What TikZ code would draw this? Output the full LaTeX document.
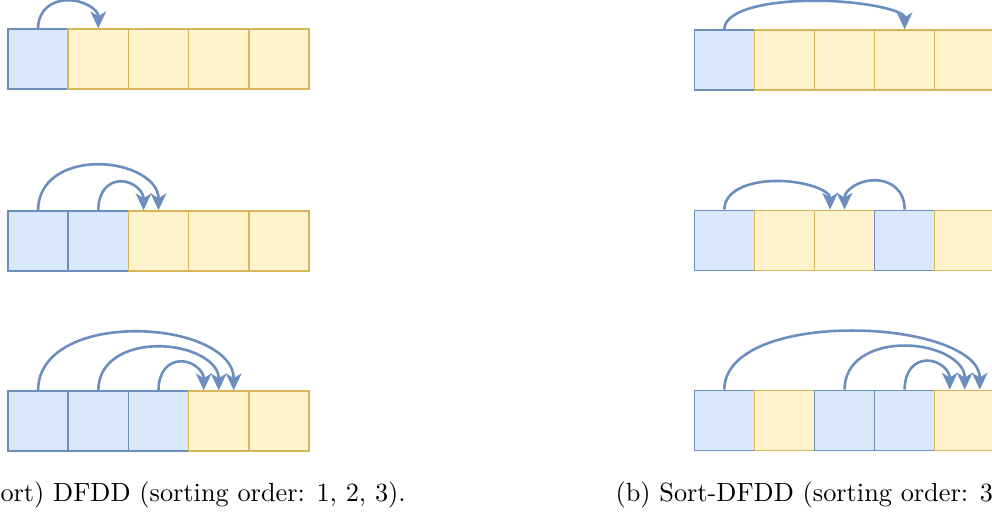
\documentclass[tikz,border=0pt]{standalone}
\usetikzlibrary{arrows.meta,calc}
\definecolor{bfill}{HTML}{DAE8FC}
\definecolor{bline}{HTML}{6C8EBF}
\definecolor{yfill}{HTML}{FFF2CC}
\definecolor{yline}{HTML}{D6B656}
\tikzset{
  cellbox/.style={rectangle,minimum width=60.2pt,minimum height=60pt,inner sep=0pt,line width=1.5pt},
  bcell/.style={cellbox,draw=bline,fill=bfill},
  ycell/.style={cellbox,draw=yline,fill=yfill},
  tipstyle/.tip={Stealth[length=17pt,width=16pt,inset=5pt,line width=0pt]},
  arr/.style={draw=bline,line width=2.6pt,-tipstyle},
  captext/.style={inner sep=0pt,anchor=base west,scale=2.63}
}
\newcommand\darc[3]{%
  \path let \p1=(#1), \p2=(#2), \n1={(\x2-\x1)/2} in
   coordinate (m) at (\x1+\n1,\y1+#3)
   coordinate (c1) at (\x1,\y1+0.65*#3)
   coordinate (c2) at (\x1+0.45*\n1,\y1+#3)
   coordinate (c3) at (\x2-0.45*\n1,\y1+#3)
   coordinate (c4) at (\x2,\y1+0.65*#3);
  \draw[arr] (#1) .. controls (c1) and (c2) .. (m) .. controls (c3) and (c4) .. (#2);}
\begin{document}
\begin{tikzpicture}[x=1pt,y=1pt]
\useasboundingbox (0,0) rectangle (992,516);
\clip (0,0) rectangle (992,516);
% ---- left panel ----
% row 1
\node[bcell] (l11) at (38.1,457) {};
\node[ycell] (l12) at (98.3,457) {};
\node[ycell] (l13) at (158.5,457) {};
\node[ycell] (l14) at (218.7,457) {};
\node[ycell] (l15) at (278.9,457) {};
% row 2
\node[bcell] (l21) at (38.1,275) {};
\node[bcell] (l22) at (98.3,275) {};
\node[ycell] (l23) at (158.5,275) {};
\node[ycell] (l24) at (218.7,275) {};
\node[ycell] (l25) at (278.9,275) {};
% row 3
\node[bcell] (l31) at (38.1,95) {};
\node[bcell] (l32) at (98.3,95) {};
\node[bcell] (l33) at (158.5,95) {};
\node[ycell] (l34) at (218.7,95) {};
\node[ycell] (l35) at (278.9,95) {};
% ---- right panel ----
\node[bcell] (r11) at (724.35,456) {};
\node[ycell] (r12) at (784.45,456) {};
\node[ycell] (r13) at (844.55,456) {};
\node[ycell] (r14) at (904.65,456) {};
\node[ycell] (r15) at (964.75,456) {};
\node[bcell] (r21) at (724.35,275.7) {};
\node[ycell] (r22) at (784.45,275.7) {};
\node[ycell] (r23) at (844.55,275.7) {};
\node[bcell] (r24) at (904.65,275.7) {};
\node[ycell] (r25) at (964.75,275.7) {};
\node[bcell] (r31) at (724.35,95.7) {};
\node[ycell] (r32) at (784.45,95.7) {};
\node[bcell] (r33) at (844.55,95.7) {};
\node[bcell] (r34) at (904.65,95.7) {};
\node[ycell] (r35) at (964.75,95.7) {};
% target points
\coordinate (t12) at (l12.north);
\coordinate (t23a) at (l23.north);
\coordinate (t23b) at ([xshift=-15pt]l23.north);
\coordinate (t34a) at ([xshift=15pt]l34.north);
\coordinate (t34b) at (l34.north);
\coordinate (t34c) at ([xshift=-15pt]l34.north);
\coordinate (u14) at (r14.north);
\coordinate (u23a) at ([xshift=-14.5pt]r23.north);
\coordinate (u23b) at (r23.north);
\coordinate (u35a) at ([xshift=15pt]r35.north);
\coordinate (u35b) at (r35.north);
\coordinate (u35c) at ([xshift=-15pt]r35.north);
% arrows left
\darc{l11.north}{t12}{28}
\darc{l21.north}{t23a}{46}
\darc{l22.north}{t23b}{29}
\darc{l31.north}{t34a}{59}
\darc{l32.north}{t34b}{44}
\darc{l33.north}{t34c}{29}
% arrows right
\darc{r11.north}{u14}{28.5}
\darc{r21.north}{u23a}{28.6}
\darc{r24.north}{u23b}{29.3}
\darc{r31.north}{u35a}{59}
\darc{r33.north}{u35b}{44}
\darc{r34.north}{u35c}{29}
% captions
\node[captext] (capa) at (0,14.3) {ort) DFDD (sorting order: 1, 2, 3).};
\node[captext] (capb) at (615,14.3) {(b) Sort-DFDD (sorting order: 3};
\end{tikzpicture}
\end{document}
